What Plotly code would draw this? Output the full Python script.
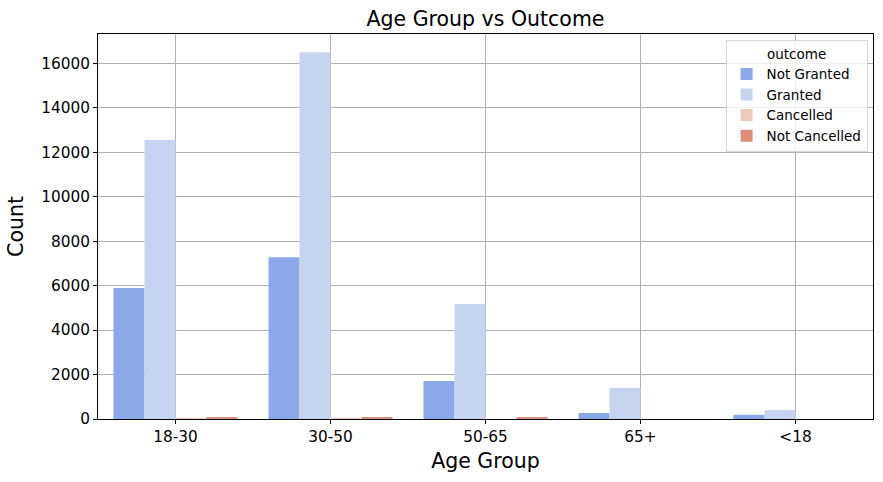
import plotly.graph_objects as go

age_groups = ["18-30", "30-50", "50-65", "65+", "<18"]
outcomes = ["Not Granted", "Granted", "Cancelled", "Not Cancelled"]
not_granted = [5890, 7280, 1710, 270, 190]
granted = [12550, 16500, 5170, 1400, 400]
cancelled = [35, 35, 0, 0, 0]
not_cancelled = [90, 90, 50, 0, 0]
series = [not_granted, granted, cancelled, not_cancelled]
colors = ["#8BA8E8", "#C6D4EF", "#EBCABD", "#DE8D79"]
y_ticks = [0, 2000, 4000, 6000, 8000, 10000, 12000, 14000, 16000]

FONT = "DejaVu Sans"

fig = go.Figure()
for name, vals, col in zip(outcomes, series, colors):
    fig.add_trace(go.Bar(x=age_groups, y=vals, name=name,
                         marker=dict(color=col, line=dict(width=0))))

fig.update_layout(
    width=883, height=482,
    barmode="group", bargap=0.2, bargroupgap=0,
    plot_bgcolor="white", paper_bgcolor="white",
    margin=dict(l=98, r=10, t=34, b=63),
    font=dict(family=FONT, color="black"),
    title=dict(text="Age Group vs Outcome", x=(98 + 873) / 2 / 883, xanchor="center",
               y=1 - 19 / 482, yanchor="middle",
               font=dict(size=20.5, family=FONT, color="black")),
    legend=dict(
        title=dict(text="outcome", side="top center", font=dict(size=13.5)),
        x=0.993, xanchor="right", y=0.984, yanchor="top",
        bgcolor="rgba(255,255,255,0.8)", bordercolor="#d6d6d6", borderwidth=1,
        font=dict(size=13.5, family=FONT), tracegroupgap=0,
    ),
    showlegend=True,
)
fig.update_xaxes(
    title=dict(text="Age Group", font=dict(size=20.5), standoff=8),
    tickfont=dict(size=15.3), ticks="outside", ticklen=4, tickcolor="black",
    showline=True, linecolor="black", linewidth=1, mirror=True,
    showgrid=True, gridcolor="#b0b0b0", gridwidth=1, layer="above traces",
    range=[-0.5, 4.5], automargin=False,
)
fig.update_yaxes(
    title=dict(text="Count", font=dict(size=20.5), standoff=12),
    tickfont=dict(size=15.3), ticks="outside", ticklen=4, tickcolor="black",
    tickvals=y_ticks, ticktext=[str(v) for v in y_ticks],
    showline=True, linecolor="black", linewidth=1, mirror=True,
    showgrid=True, gridcolor="#b0b0b0", gridwidth=1, layer="above traces",
    range=[0, 17325], zeroline=False, automargin=False,
)
fig.write_html("out.html", config={"displayModeBar": False},
               post_script="document.body.style.margin='0px';")
